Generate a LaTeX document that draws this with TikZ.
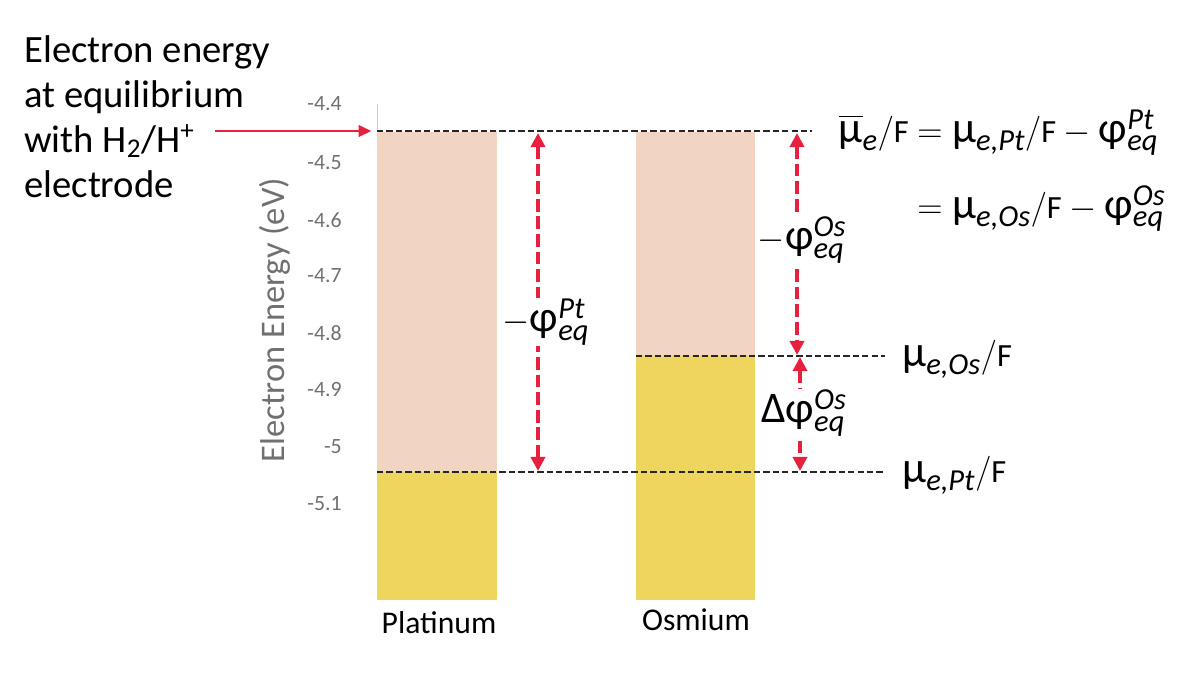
\documentclass[tikz,border=0pt]{standalone}
\usepackage{amsmath}
\usepackage{fontspec}
\setmainfont{Carlito}
\usepackage{tikz}
\usetikzlibrary{arrows.meta,positioning}
\definecolor{bandpink}{RGB}{242,212,194}
\definecolor{bandgold}{RGB}{237,213,94}
\definecolor{eqred}{RGB}{232,32,64}
\definecolor{axisgrey}{RGB}{112,112,112}
\newcommand{\bigtxt}{\fontsize{27.5}{32}\selectfont}
\newcommand{\eqtxt}{\fontsize{31}{34}\selectfont}
\newcommand{\Fsm}{\text{\fontsize{23}{23}\selectfont F}}
\newcommand{\mue}[1]{\text{μ}_{\textit{#1}}}
\newcommand{\phieq}[1]{\text{φ}^{\textit{#1}}_{\textit{eq}}}

\begin{document}
\begin{tikzpicture}[
    x=0.025cm, y=-0.025cm,
    tick/.style={anchor=east, text=axisgrey, font=\fontsize{15.5}{15.5}\selectfont, inner sep=0pt},
    level/.style={black!85, line width=1.7pt, dash pattern=on 4.5pt off 2.2pt},
    potarrow/.style={eqred, line width=3pt, dash pattern=on 9pt off 3.5pt, {Triangle[length=10pt,width=10pt]}-{Triangle[length=10pt,width=10pt]}},
    potlabel/.style={fill=white, inner sep=1pt, font=\eqtxt},
    eqlabel/.style={anchor=base west, inner sep=0pt, font=\eqtxt},
    metal/.style={anchor=base, inner sep=0pt, font=\fontsize{22.5}{22.5}\selectfont},
]
\useasboundingbox (0,0) rectangle (1200,684);

% Axis
\draw[black!20, line width=0.6pt] (377,104) -- (377,600);
\foreach \lab/\ypos [count=\i] in {-4.4/104,-4.5/163,-4.6/220,-4.7/276,-4.8/333,-4.9/390,-5/447,-5.1/504}
  \node[tick] (tick\i) at (342,\ypos) {\lab};
\node[rotate=90, text=axisgrey, font=\fontsize{24.5}{24.5}\selectfont] (ytitle) at (275,320) {Electron Energy (eV)};

% Bars
\coordinate (ptTop) at (377,132);
\coordinate (ptMid) at (497,472);
\coordinate (ptLow) at (377,472);
\coordinate (ptBot) at (497,600);
\coordinate (osTop) at (636,132);
\coordinate (osMid) at (755,356);
\coordinate (osLow) at (636,356);
\coordinate (osBot) at (755,600);
\fill[bandpink] (ptTop) rectangle (ptMid);
\fill[bandgold] (ptLow) rectangle (ptBot);
\fill[bandpink] (osTop) rectangle (osMid);
\fill[bandgold] (osLow) rectangle (osBot);
\node[metal] (platinum) at (439,633) {Platinum};
\node[metal] (osmium) at (696,630) {Osmium};

% Levels
\coordinate (eqLeft) at (377,131);
\coordinate (eqRight) at (812,131);
\coordinate (osRight) at (885,356);
\coordinate (ptRight) at (885,472);
\draw[level] (eqLeft) -- (eqRight);
\draw[level] (osLow) -- (osRight);
\draw[level] (ptLow) -- (ptRight);

% Left note
\node[anchor=north west, align=left, inner sep=0pt, font=\bigtxt] (note) at (24,35)
  {Electron energy\\at equilibrium\\with H\textsubscript{2}/H\textsuperscript{+}\\electrode};
\coordinate (noteArrow) at (215,131);
\draw[eqred, line width=2pt, -{Triangle[length=9pt,width=8pt]}] (noteArrow) -- ([xshift=-4pt]eqLeft);

% Potential arrows
\coordinate (ptA) at (538,133);
\coordinate (ptB) at (538,471);
\coordinate (osA) at (797,133);
\coordinate (osB) at (797,355);
\coordinate (osC) at (800,357);
\coordinate (osD) at (800,471);
\draw[potarrow] (ptA) -- (ptB);
\draw[potarrow] (osA) -- (osB);
\draw[potarrow] (osC) -- (osD);
\node[potlabel] (phiPt) at (546,322) {$-\phieq{Pt}$};
\node[potlabel] (phiOs) at (802,240) {$-\phieq{Os}$};
\node[potlabel] (dphiOs) at (804,413) {$\text{Δ}\phieq{Os}$};

% Right labels
\node[eqlabel, anchor=base east] (mubar) at (909,142) {$\overline{\text{μ}}_{\textit{e}}/\Fsm$};
\node[eqlabel] (eqPt) at (917,142) {$=\mue{e,Pt}/\Fsm-\phieq{Pt}$};
\node[eqlabel] (eqOs) at (917,218) {$=\mue{e,Os}/\Fsm-\phieq{Os}$};
\node[eqlabel] (muOs) at (902,366) {$\mue{e,Os}/\Fsm$};
\node[eqlabel] (muPt) at (902,482) {$\mue{e,Pt}/\Fsm$};

\end{tikzpicture}
\end{document}
